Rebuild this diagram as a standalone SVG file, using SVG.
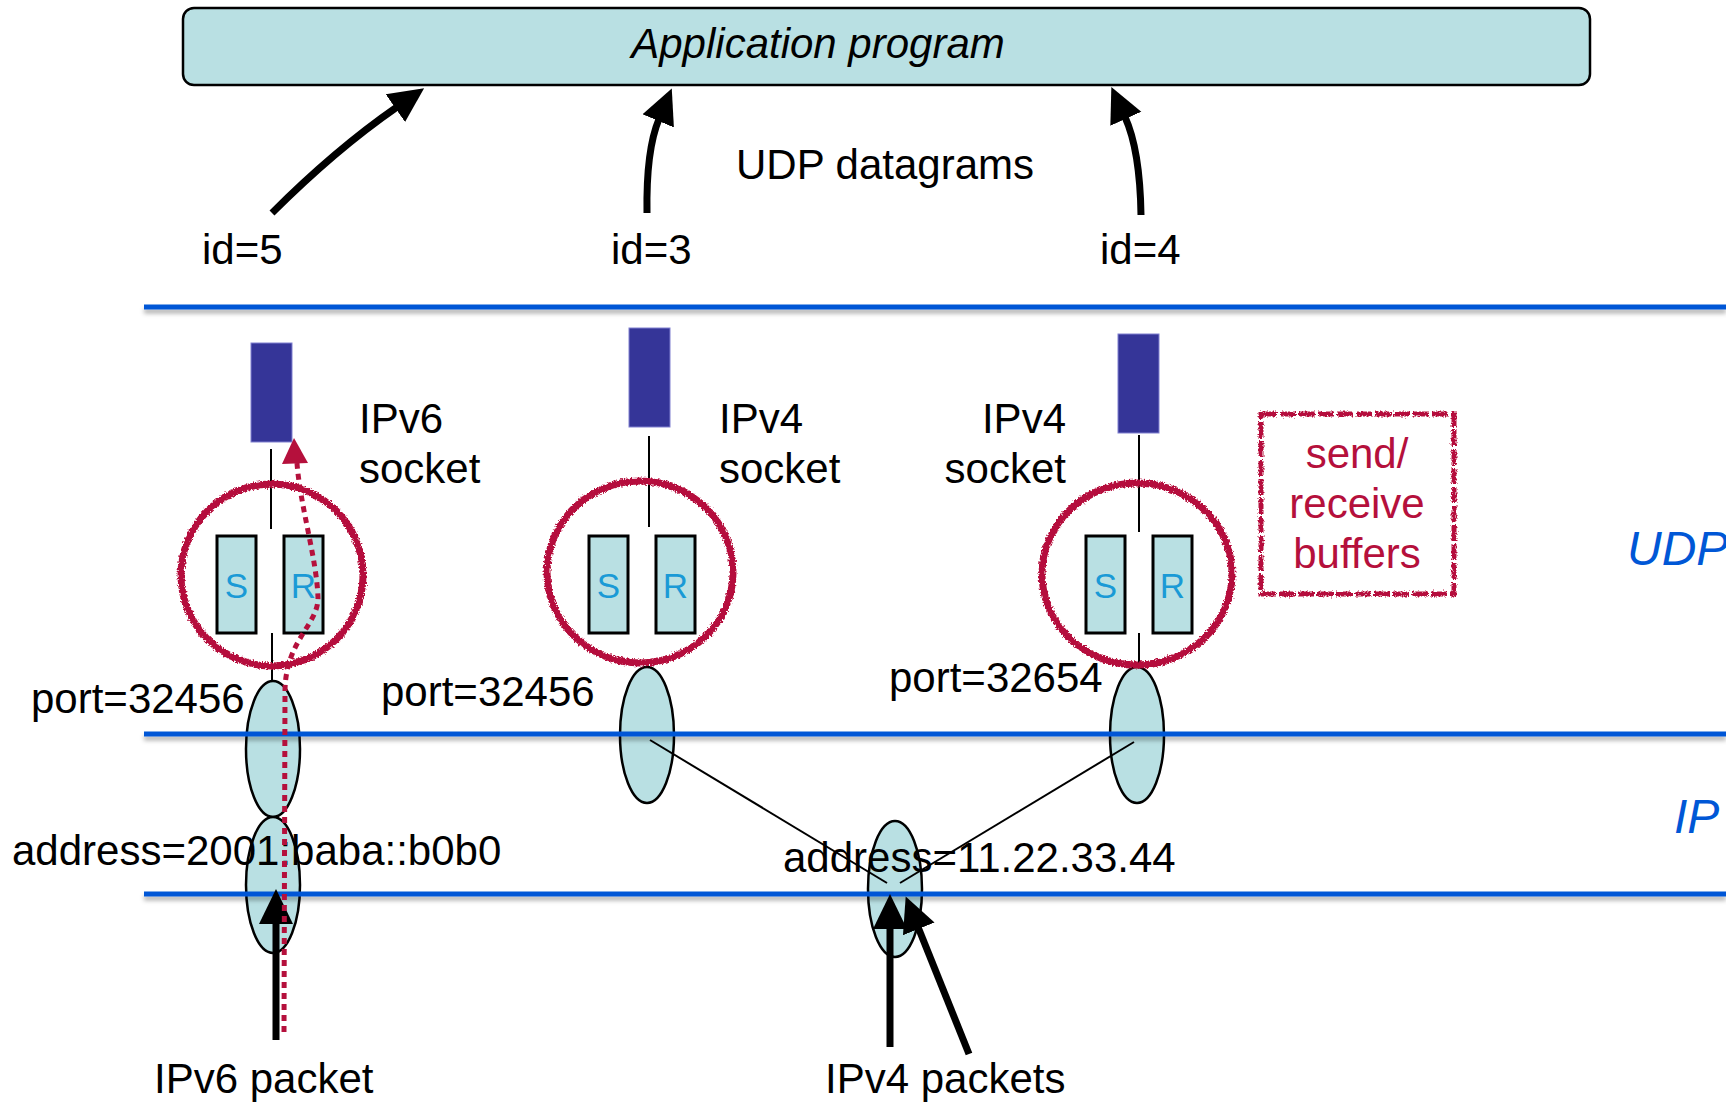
<svg xmlns="http://www.w3.org/2000/svg" width="1726" height="1103" viewBox="0 0 1726 1103">
<style>
text{font-family:"Liberation Sans",Arial,sans-serif;font-size:42px;fill:#000}
.it{font-style:italic}
.blue{fill:#0057d6;font-size:48px}
.red{fill:#b5103c}
.sr{font-size:35px;fill:#1a9ad6;text-anchor:middle}
.layer{stroke:#0057d6;stroke-width:5;fill:none}
.sock{fill:#353598;stroke:#8080d0;stroke-width:1}
.buf{fill:#b9e0e3;stroke:#000;stroke-width:3}
.ell{fill:#b9e0e3;stroke:#000;stroke-width:2.5}
.thin{stroke:#000;stroke-width:2;fill:none}
.ring{fill:none;stroke:#b5103c;stroke-width:7}
.big{stroke:#000;stroke-width:7;fill:none}
</style>
<defs>
<filter id="rough" x="-10%" y="-10%" width="120%" height="120%">
<feTurbulence type="fractalNoise" baseFrequency="0.55" numOctaves="2" seed="3" result="n"/>
<feDisplacementMap in="SourceGraphic" in2="n" scale="5" xChannelSelector="R" yChannelSelector="G"/>
</filter>
<filter id="sh" filterUnits="userSpaceOnUse" x="0" y="0" width="1726" height="1103">
<feDropShadow dx="0" dy="4" stdDeviation="2" flood-color="#000" flood-opacity="0.3"/>
</filter>
<marker id="ah" markerUnits="userSpaceOnUse" viewBox="0 0 40 40" markerWidth="40" markerHeight="40" refX="2" refY="20" orient="auto">
<path d="M0,3 L35,20 L0,37 z" fill="#000"/>
</marker>
</defs>

<g id="app">
<rect x="183" y="8" width="1407" height="77" rx="11" fill="#b9e0e3" stroke="#000" stroke-width="2.5"/>
<text class="it" x="818" y="58" text-anchor="middle">Application program</text>
</g>

<g id="labels-top">
<text x="736" y="179">UDP datagrams</text>
<text x="202" y="264">id=5</text>
<text x="611" y="264">id=3</text>
<text x="1100" y="264">id=4</text>
</g>

<g id="layer-top" filter="url(#sh)">
<line class="layer" x1="144" y1="307" x2="1726" y2="307"/>
</g>
<text class="it blue" x="1627" y="565">UDP</text>
<text class="it blue" x="1674" y="833">IP</text>

<g id="ellipses">
<ellipse id="port1" class="ell" cx="273" cy="749" rx="27" ry="68"/>
<ellipse id="addr6" class="ell" cx="273" cy="885" rx="27" ry="68"/>
<ellipse id="port2" class="ell" cx="647" cy="735" rx="27" ry="68"/>
<ellipse id="port3" class="ell" cx="1137" cy="735" rx="27" ry="68"/>
<ellipse id="addr4" class="ell" cx="895" cy="889" rx="27" ry="68"/>
</g>

<g id="layer-lines" filter="url(#sh)">
<line class="layer" x1="144" y1="734" x2="1726" y2="734"/>
<line class="layer" x1="144" y1="894" x2="1726" y2="894"/>
</g>

<g id="socket1">
<rect class="sock" x="251" y="343" width="41" height="99"/>
<line class="thin" x1="271" y1="449" x2="271" y2="529"/>
<line class="thin" x1="272" y1="633" x2="272" y2="681"/>
<rect class="buf" x="217" y="536" width="39" height="97"/>
<rect class="buf" x="284" y="536" width="39" height="97"/>
<text class="sr" x="236.5" y="598">S</text>
<text class="sr" x="303.5" y="598">R</text>
<ellipse class="ring" cx="272" cy="575" rx="91" ry="91" filter="url(#rough)"/>
<text x="359" y="433">IPv6</text>
<text x="359" y="483">socket</text>
</g>

<g id="socket2">
<rect class="sock" x="629" y="328" width="41" height="99"/>
<line class="thin" x1="649" y1="436" x2="649" y2="527"/>
<rect class="buf" x="589" y="536" width="39" height="97"/>
<rect class="buf" x="656" y="536" width="39" height="97"/>
<text class="sr" x="608.5" y="598">S</text>
<text class="sr" x="675.5" y="598">R</text>
<ellipse class="ring" cx="640" cy="572" rx="93" ry="91" filter="url(#rough)"/>
<text x="719" y="433">IPv4</text>
<text x="719" y="483">socket</text>
</g>

<g id="socket3">
<rect class="sock" x="1118" y="334" width="41" height="99"/>
<line class="thin" x1="1139" y1="435" x2="1139" y2="532"/>
<line class="thin" x1="1139" y1="633" x2="1139" y2="668"/>
<rect class="buf" x="1086" y="536" width="39" height="97"/>
<rect class="buf" x="1153" y="536" width="39" height="97"/>
<text class="sr" x="1105.5" y="598">S</text>
<text class="sr" x="1172.5" y="598">R</text>
<ellipse class="ring" cx="1137" cy="574" rx="95" ry="91" filter="url(#rough)"/>
<text x="1066" y="433" text-anchor="end">IPv4</text>
<text x="1066" y="483" text-anchor="end">socket</text>
</g>

<g id="buffers-note">
<rect x="1261" y="414" width="193" height="180" fill="none" stroke="#b5103c" stroke-width="5" stroke-dasharray="16 3" filter="url(#rough)"/>
<text class="red" x="1357" y="468" text-anchor="middle">send/</text>
<text class="red" x="1357" y="518" text-anchor="middle">receive</text>
<text class="red" x="1357" y="568" text-anchor="middle">buffers</text>
</g>

<g id="labels-ports">
<text x="31" y="713">port=32456</text>
<text x="381" y="706">port=32456</text>
<text x="889" y="692">port=32654</text>
<text x="12" y="865">address=2001:baba::b0b0</text>
<text x="783" y="872">address=11.22.33.44</text>
<text x="154" y="1093">IPv6 packet</text>
<text x="825" y="1093">IPv4 packets</text>
</g>

<g id="connectors">
<line class="thin" x1="650" y1="740" x2="887" y2="883"/>
<line class="thin" x1="1134" y1="742" x2="900" y2="883"/>
<path class="big" d="M272,213 Q335,150 397,107" marker-end="url(#ah)"/>
<path class="big" d="M647,213 Q646,150 659,119" marker-end="url(#ah)"/>
<path class="big" d="M1141,215 Q1140,150 1125,117" marker-end="url(#ah)"/>
<path class="big" d="M276,1040 L276,922" marker-end="url(#ah)"/>
<path class="big" d="M890,1047 L890,927" marker-end="url(#ah)"/>
<path class="big" d="M969,1054 L918,927" marker-end="url(#ah)"/>
<path d="M284,1032 L285,690 C286,640 318,625 318,598 C317,560 300,505 297,463" fill="none" stroke="#b5103c" stroke-width="5" stroke-dasharray="6 5"/>
<polygon points="294,438 282,464 308,463" fill="#b5103c"/>
</g>
</svg>
